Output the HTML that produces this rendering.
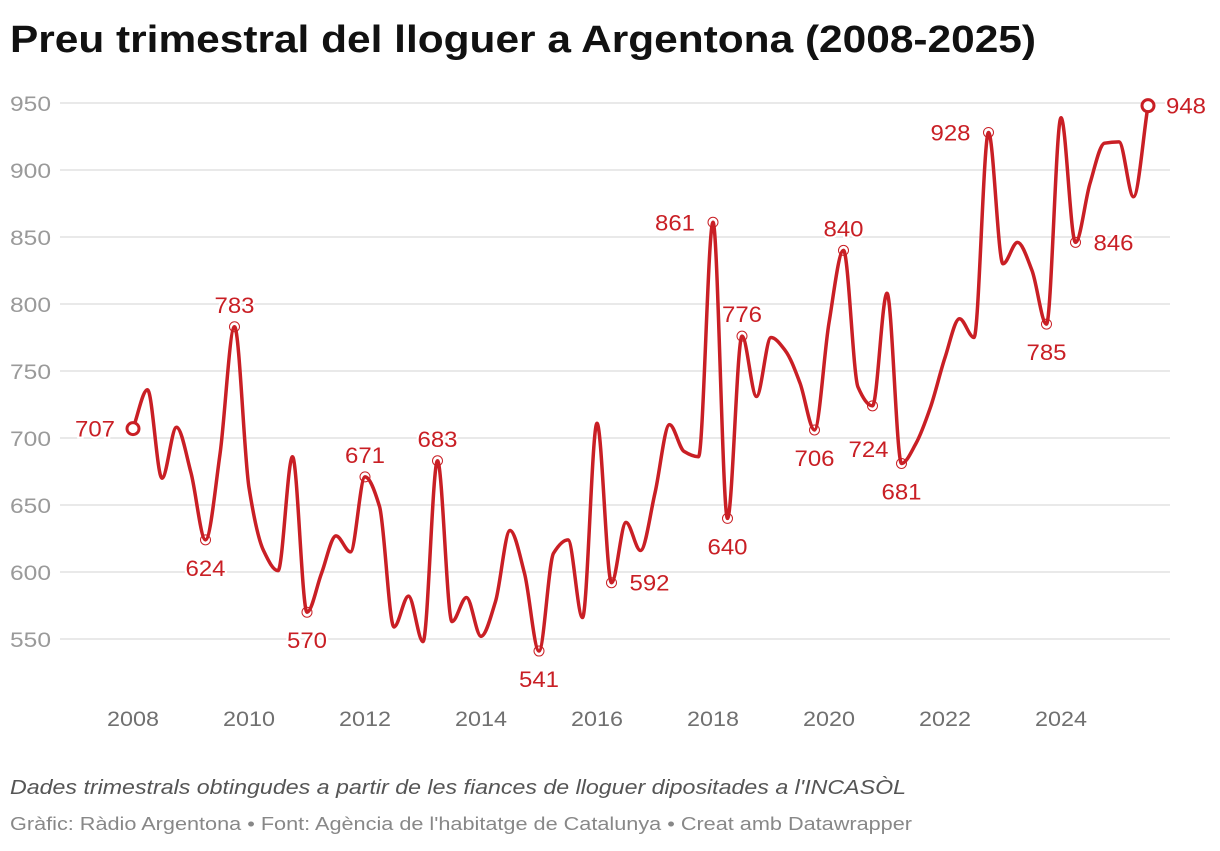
<!DOCTYPE html>
<html><head><meta charset="utf-8">
<style>
html,body{margin:0;padding:0;background:#fff;}
body{width:1220px;height:846px;overflow:hidden;font-family:"Liberation Sans",sans-serif;}
</style></head>
<body>
<svg id="chart" width="1220" height="846" xmlns="http://www.w3.org/2000/svg" font-family="Liberation Sans, sans-serif">
<text x="10" y="52" font-size="38" font-weight="bold" fill="#111" textLength="1026" lengthAdjust="spacingAndGlyphs">Preu trimestral del lloguer a Argentona (2008-2025)</text>
<g id="grid"></g>
<g id="yticks"></g>
<g id="xticks"></g>
<g id="series"></g>
<g id="labels"></g>
<text x="10" y="794" font-size="20" font-style="italic" fill="#555" textLength="896" lengthAdjust="spacingAndGlyphs">Dades trimestrals obtingudes a partir de les fiances de lloguer dipositades a l'INCASÒL</text>
<text x="10" y="830" font-size="18" fill="#888" textLength="902" lengthAdjust="spacingAndGlyphs">Gràfic: Ràdio Argentona • Font: Agència de l'habitatge de Catalunya • Creat amb Datawrapper</text>
</svg>
<script>
const startYear = 2008;
const values = [707,736,670,708,674,624,688,783,663,616,601,686,570,599,627,615,671,649,559,582,548,683,563,581,552,578,631,599,541,614,624,566,711,592,637,616,659,710,690,686,861,640,776,731,775,765,741,706,786,840,738,724,808,681,696,723,760,789,775,928,830,846,825,785,939,846,890,920,921,880,948];
const yTicks = [550,600,650,700,750,800,850,900,950];
const xTicks = [2008,2010,2012,2014,2016,2018,2020,2022,2024];
const labelIdx = [0,5,7,12,16,21,28,33,40,41,42,47,49,51,53,59,63,65,70];
const labelPos = ['l','b','t','b','t','t','b','r','l','b','t','b','t','bl','b','l','b','r','r'];

const NS='http://www.w3.org/2000/svg';
const X = i => 133 + 14.5*i;
const XY = yr => 133 + 58*(yr-startYear);
const Y = v => 103 + (950-v)*1.34;
function mk(tag, attrs, parent){const e=document.createElementNS(NS,tag);for(const k in attrs)e.setAttribute(k,attrs[k]);parent.appendChild(e);return e;}
const grid=document.getElementById('grid'), yt=document.getElementById('yticks'), xt=document.getElementById('xticks'), ser=document.getElementById('series'), lab=document.getElementById('labels');

yTicks.forEach(v=>{
  const l=mk('line',{x1:60,x2:1170,y1:Y(v),y2:Y(v),stroke:'#e2e2e2','stroke-width':1.5},grid);
  
  
  const t=mk('text',{x:10,y:Y(v)+8,'font-size':21,fill:'#9a9a9a',textLength:41,lengthAdjust:'spacingAndGlyphs'},yt);
  t.textContent=v;
  
  
});
xTicks.forEach(yr=>{
  const t=mk('text',{x:XY(yr)-26,y:726,'font-size':21,fill:'#707070',textLength:52,lengthAdjust:'spacingAndGlyphs'},xt);
  t.textContent=yr;
  
  
});

// monotone X interpolation
const pts=values.map((v,i)=>[X(i),Y(v)]);
const n=pts.length, m=new Array(n);
const d=[];for(let i=0;i<n-1;i++)d.push((pts[i+1][1]-pts[i][1])/(pts[i+1][0]-pts[i][0]));
m[0]=d[0];m[n-1]=d[n-2];
for(let i=1;i<n-1;i++){ if(d[i-1]*d[i]<=0)m[i]=0; else {const h0=pts[i][0]-pts[i-1][0],h1=pts[i+1][0]-pts[i][0];m[i]=3*(h0+h1)/((2*h1+h0)/d[i-1]+(h1+2*h0)/d[i]);} }
let p='M'+pts[0][0]+','+pts[0][1];
for(let i=0;i<n-1;i++){const h=(pts[i+1][0]-pts[i][0])/3;p+=' C'+(pts[i][0]+h)+','+(pts[i][1]+m[i]*h)+' '+(pts[i+1][0]-h)+','+(pts[i+1][1]-m[i+1]*h)+' '+pts[i+1][0]+','+pts[i+1][1];}
const line=mk('path',{d:p,fill:'none',stroke:'#c91f25','stroke-width':3.5,'stroke-linejoin':'round'},ser);



labelIdx.forEach((i,k)=>{
  const cx=X(i), cy=Y(values[i]);
  const end=(i===0||i===n-1);
  const c=mk('circle',{cx:cx,cy:cy,r:end?6:5,fill:end?'#fff':'none',stroke:'#c91f25','stroke-width':end?3:1},ser);
  
  
  const pos=labelPos[k];
  const w=40;
  let tx=cx-w/2,ty=cy;
  if(pos==='t'){ty=cy-14;}
  else if(pos==='b'){ty=cy+36;}
  else if(pos==='l'){tx=cx-18-w;ty=cy+8;}
  else if(pos==='r'){tx=cx+18;ty=cy+8;}
  else if(pos==='bl'){tx=cx-w+16;ty=cy+51;}
  const t=mk('text',{x:tx,y:ty,'font-size':22,fill:'#c91f25',textLength:w,lengthAdjust:'spacingAndGlyphs',stroke:'#fff','stroke-width':4,'paint-order':'stroke'},lab);
  t.textContent=values[i];
  
  
});
</script>
</body></html>
